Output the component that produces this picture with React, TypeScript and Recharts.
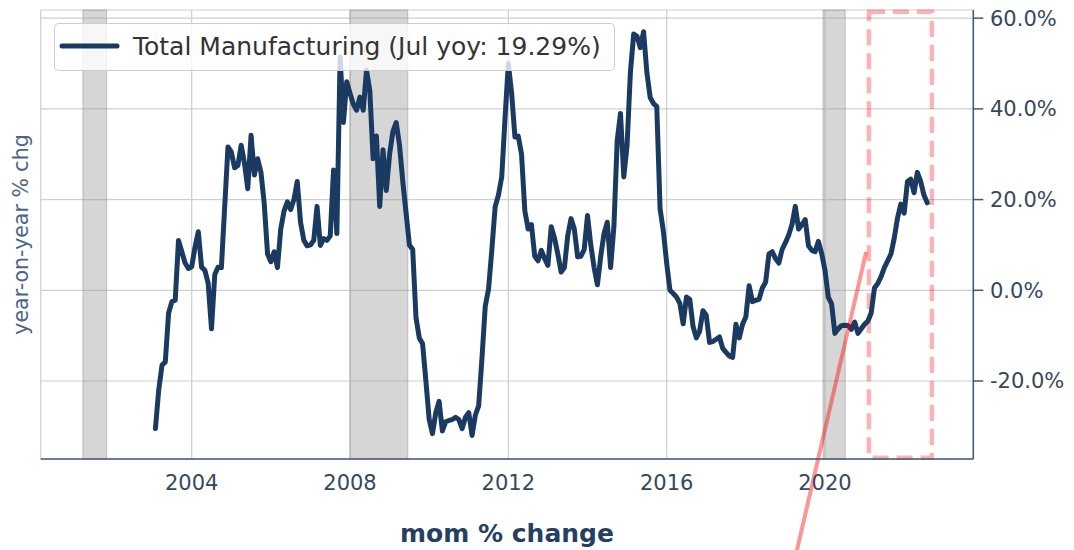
import React from 'react';
import {
  LineChart,
  Line,
  XAxis,
  YAxis,
  CartesianGrid,
  ReferenceArea,
  ReferenceLine,
  Legend,
} from 'recharts';

// ---- data ----
const START_YEAR = 2003; // first observation: Jan 2003 (plotted at month end)
const seriesName = 'Total Manufacturing (Jul yoy: 19.29%)';
const yoyPct: number[] = [
  // 2003
  -30.5, -22, -16.5, -15.8, -5, -2.5, -2.2, 11, 8.5, 6, 4.8, 5.2,
  // 2004
  9.5, 12.9, 5.1, 4.4, 1.5, -8.5, 3.5, 5.1, 5, 18.4, 31.6, 30.5,
  // 2005
  27, 27.5, 32, 28, 22.4, 34.2, 25.4, 29, 26, 19, 8, 6.3,
  // 2006
  8.5, 5, 13.5, 17.5, 19.5, 17.8, 20, 24, 15, 11, 9.8, 10,
  // 2007
  11, 18.5, 9.9, 11.4, 11, 12, 26.5, 12.5, 51.5, 37, 46, 43.4,
  // 2008
  41, 39.7, 42.6, 39.7, 48.5, 44, 29, 34, 18.5, 31, 22, 30,
  // 2009
  35, 37, 32, 24, 17, 10, 9, -6, -10.5, -11.8, -20, -28.5,
  // 2010
  -31.6, -27, -24.5, -31, -29, -28.7, -28.5, -28, -28.5, -30.5, -28, -27,
  // 2011
  -32, -27.5, -25.5, -15, -3.5, 0.3, 9, 18.4, 21, 25, 38, 50,
  // 2012
  43.4, 33.8, 34, 30, 17.5, 13.5, 14.5, 7.5, 6.5, 8.8, 7, 5.5,
  // 2013
  14, 11.5, 8, 4, 5, 12, 15.8, 13.5, 7.4, 7.5, 9, 16.5,
  // 2014
  10, 5, 1.2, 7.4, 12.5, 15, 5, 14, 33, 39, 25, 32,
  // 2015
  48, 56.5, 56, 53.5, 57, 48, 42.5, 41.2, 40.5, 18, 13, 6,
  // 2016
  0, -0.7, -1.5, -2.9, -7.4, -1.5, -2, -8, -10.5, -9, -4.5, -5.5,
  // 2017
  -11.5, -11.3, -10.8, -10.3, -12.8, -13.7, -14.5, -14.8, -7.5, -10.5, -7.5, -5.9,
  // 2018
  1, -2.5, -2.2, -2, 0.5, 1.8, 8, 8.5, 7, 6, 9, 10.5,
  // 2019
  12.2, 14.5, 18.5, 13.5, 14.5, 15.6, 9.8, 8.8, 8.5, 10.8, 8.1, 4.4,
  // 2020
  -1.5, -3, -9.5, -8.5, -7.8, -7.7, -7.8, -8.6, -7, -9.5, -8.5, -7.5,
  // 2021
  -6.8, -5, 0.5, 1.5, 3, 5, 6.5, 8, 11.5, 16, 19, 17,
  // 2022
  24, 24.5, 21.5, 26, 24, 21, 19.29,
];
const xTicks = [2004, 2008, 2012, 2016, 2020];
const yTicks = [-20, 0, 20, 40, 60];
const recessionStarts = [2001.25, 2008.0, 2019.95];
const recessionEnds = [2001.85, 2009.46, 2020.51];
const boxX = [2021.11, 2022.7];
const boxY = [-36.9, 61.4];
const trendX = [2019.22, 2021.04];
const trendY = [-60, 8.45];

const data = yoyPct.map((v, i) => ({ t: START_YEAR + (i + 1) / 12, v }));

// ---- styles ----
const NAVY = '#1b3a61';
const AXIS = '#3d5a80';
const TICK = '#34495e';
const FONT = '"DejaVu Sans", sans-serif';

const renderLegend = (props: any) => {
  const item = props && props.payload && props.payload[0];
  const name = (item && item.value) || seriesName;
  return (
    <div
      style={{
        width: 561,
        height: 48,
        boxSizing: 'border-box',
        border: '1px solid rgba(200,200,200,0.9)',
        borderRadius: 5,
        background: 'rgba(255,255,255,0.8)',
        position: 'relative',
      }}
    >
      <svg width={561} height={48} style={{ position: 'absolute', left: -1, top: -1 }}>
        <line x1={8} y1={23} x2={63} y2={23} stroke={NAVY} strokeWidth={5} strokeLinecap="round" />
        <text x={79} y={32} fontSize={25} fill="#333333" fontFamily={FONT}>
          {name}
        </text>
      </svg>
    </div>
  );
};

export default function App() {
  return (
    <div
      style={{
        position: 'absolute',
        left: 0,
        top: 0,
        width: 1074,
        height: 550,
        background: '#ffffff',
        fontFamily: FONT,
      }}
    >
      <LineChart width={1074} height={550} data={data} margin={{ top: 10, right: 0.7, bottom: 0, left: 0 }}>
        <CartesianGrid stroke="#cfcfcf" strokeWidth={1.2} />
        <XAxis
          dataKey="t"
          type="number"
          domain={[2000.185, 2023.747]}
          ticks={xTicks}
          allowDataOverflow
          height={91}
          tickLine={false}
          tickSize={0}
          tickMargin={16}
          axisLine={{ stroke: AXIS, strokeWidth: 1.5 }}
          tick={{ fill: TICK, fontSize: 21, fontFamily: FONT }}
          label={{
            value: 'mom % change',
            position: 'insideBottom',
            offset: 8,
            fill: '#253f63',
            fontSize: 25,
            fontWeight: 'bold',
            fontFamily: FONT,
          }}
        />
        <YAxis
          yAxisId="left"
          orientation="left"
          width={40.7}
          type="number"
          domain={[0, 1]}
          tick={false}
          axisLine={false}
          tickLine={false}
          label={{
            value: 'year-on-year % chg',
            angle: -90,
            position: 'center',
            fill: '#4a6587',
            fontSize: 20.5,
            fontFamily: FONT,
          }}
        />
        <YAxis
          orientation="right"
          width={100}
          type="number"
          domain={[-37.2, 61.8]}
          ticks={yTicks}
          allowDataOverflow
          tickFormatter={(v: number) => `${v.toFixed(1)}%`}
          tickSize={10}
          tickMargin={6.7}
          tickLine={{ stroke: AXIS, strokeWidth: 1.5 }}
          axisLine={{ stroke: AXIS, strokeWidth: 1.5 }}
          tick={{ fill: TICK, fontSize: 21, fontFamily: FONT }}
        />
        {recessionStarts.map((s, i) => (
          <ReferenceArea
            key={`rec-${i}`}
            x1={s}
            x2={recessionEnds[i]}
            fill="#999999"
            fillOpacity={0.4}
            stroke="#888888"
            strokeOpacity={0.45}
            strokeWidth={1}
          />
        ))}
        <ReferenceArea
          x1={boxX[0]}
          x2={boxX[1]}
          y1={boxY[0]}
          y2={boxY[1]}
          ifOverflow="visible"
          fill="none"
          fillOpacity={0}
          stroke="#ff0000"
          strokeOpacity={0.3}
          strokeWidth={4.5}
          strokeDasharray="16 8"
        />
        <Line
          type="linear"
          dataKey="v"
          name={seriesName}
          stroke={NAVY}
          strokeWidth={5}
          strokeLinejoin="round"
          strokeLinecap="round"
          dot={false}
          activeDot={false}
          isAnimationActive={false}
        />
        <ReferenceLine
          segment={[
            { x: trendX[0], y: trendY[0] },
            { x: trendX[1], y: trendY[1] },
          ]}
          ifOverflow="visible"
          stroke="#ff0000"
          strokeOpacity={0.42}
          strokeWidth={4}
        />
        <Legend
          layout="vertical"
          align="center"
          verticalAlign="middle"
          wrapperStyle={{ left: 54, top: 22.7, width: 561, height: 48 }}
          content={renderLegend}
        />
      </LineChart>
    </div>
  );
}
